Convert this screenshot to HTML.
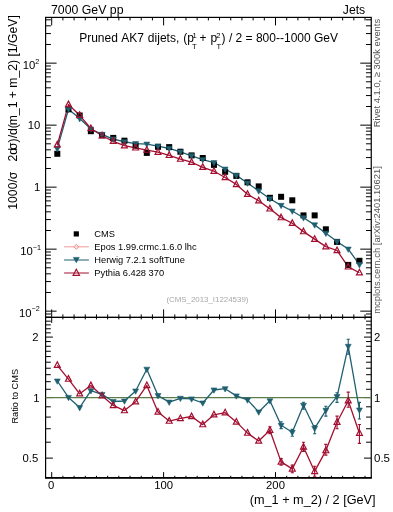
<!DOCTYPE html><html><head><meta charset="utf-8"><style>html,body{margin:0;padding:0;background:#fff;overflow:hidden;width:393px;height:512px;}svg{display:block;will-change:transform;}text{font-family:"Liberation Sans",sans-serif;}</style></head><body>
<svg width="393" height="512" viewBox="0 0 393 512">
<line x1="45.60" y1="317.16" x2="50.90" y2="317.16" stroke="#000" stroke-width="1.0"/><line x1="371.25" y1="317.16" x2="365.95" y2="317.16" stroke="#000" stroke-width="1.0"/><line x1="45.60" y1="313.99" x2="50.90" y2="313.99" stroke="#000" stroke-width="1.0"/><line x1="371.25" y1="313.99" x2="365.95" y2="313.99" stroke="#000" stroke-width="1.0"/><line x1="45.60" y1="311.15" x2="56.60" y2="311.15" stroke="#000" stroke-width="1.0"/><line x1="371.25" y1="311.15" x2="360.25" y2="311.15" stroke="#000" stroke-width="1.0"/><line x1="45.60" y1="292.49" x2="50.90" y2="292.49" stroke="#000" stroke-width="1.0"/><line x1="371.25" y1="292.49" x2="365.95" y2="292.49" stroke="#000" stroke-width="1.0"/><line x1="45.60" y1="281.57" x2="50.90" y2="281.57" stroke="#000" stroke-width="1.0"/><line x1="371.25" y1="281.57" x2="365.95" y2="281.57" stroke="#000" stroke-width="1.0"/><line x1="45.60" y1="273.82" x2="50.90" y2="273.82" stroke="#000" stroke-width="1.0"/><line x1="371.25" y1="273.82" x2="365.95" y2="273.82" stroke="#000" stroke-width="1.0"/><line x1="45.60" y1="267.81" x2="50.90" y2="267.81" stroke="#000" stroke-width="1.0"/><line x1="371.25" y1="267.81" x2="365.95" y2="267.81" stroke="#000" stroke-width="1.0"/><line x1="45.60" y1="262.90" x2="50.90" y2="262.90" stroke="#000" stroke-width="1.0"/><line x1="371.25" y1="262.90" x2="365.95" y2="262.90" stroke="#000" stroke-width="1.0"/><line x1="45.60" y1="258.75" x2="50.90" y2="258.75" stroke="#000" stroke-width="1.0"/><line x1="371.25" y1="258.75" x2="365.95" y2="258.75" stroke="#000" stroke-width="1.0"/><line x1="45.60" y1="255.16" x2="50.90" y2="255.16" stroke="#000" stroke-width="1.0"/><line x1="371.25" y1="255.16" x2="365.95" y2="255.16" stroke="#000" stroke-width="1.0"/><line x1="45.60" y1="251.99" x2="50.90" y2="251.99" stroke="#000" stroke-width="1.0"/><line x1="371.25" y1="251.99" x2="365.95" y2="251.99" stroke="#000" stroke-width="1.0"/><line x1="45.60" y1="249.15" x2="56.60" y2="249.15" stroke="#000" stroke-width="1.0"/><line x1="371.25" y1="249.15" x2="360.25" y2="249.15" stroke="#000" stroke-width="1.0"/><line x1="45.60" y1="230.49" x2="50.90" y2="230.49" stroke="#000" stroke-width="1.0"/><line x1="371.25" y1="230.49" x2="365.95" y2="230.49" stroke="#000" stroke-width="1.0"/><line x1="45.60" y1="219.57" x2="50.90" y2="219.57" stroke="#000" stroke-width="1.0"/><line x1="371.25" y1="219.57" x2="365.95" y2="219.57" stroke="#000" stroke-width="1.0"/><line x1="45.60" y1="211.82" x2="50.90" y2="211.82" stroke="#000" stroke-width="1.0"/><line x1="371.25" y1="211.82" x2="365.95" y2="211.82" stroke="#000" stroke-width="1.0"/><line x1="45.60" y1="205.81" x2="50.90" y2="205.81" stroke="#000" stroke-width="1.0"/><line x1="371.25" y1="205.81" x2="365.95" y2="205.81" stroke="#000" stroke-width="1.0"/><line x1="45.60" y1="200.90" x2="50.90" y2="200.90" stroke="#000" stroke-width="1.0"/><line x1="371.25" y1="200.90" x2="365.95" y2="200.90" stroke="#000" stroke-width="1.0"/><line x1="45.60" y1="196.75" x2="50.90" y2="196.75" stroke="#000" stroke-width="1.0"/><line x1="371.25" y1="196.75" x2="365.95" y2="196.75" stroke="#000" stroke-width="1.0"/><line x1="45.60" y1="193.16" x2="50.90" y2="193.16" stroke="#000" stroke-width="1.0"/><line x1="371.25" y1="193.16" x2="365.95" y2="193.16" stroke="#000" stroke-width="1.0"/><line x1="45.60" y1="189.99" x2="50.90" y2="189.99" stroke="#000" stroke-width="1.0"/><line x1="371.25" y1="189.99" x2="365.95" y2="189.99" stroke="#000" stroke-width="1.0"/><line x1="45.60" y1="187.15" x2="56.60" y2="187.15" stroke="#000" stroke-width="1.0"/><line x1="371.25" y1="187.15" x2="360.25" y2="187.15" stroke="#000" stroke-width="1.0"/><line x1="45.60" y1="168.49" x2="50.90" y2="168.49" stroke="#000" stroke-width="1.0"/><line x1="371.25" y1="168.49" x2="365.95" y2="168.49" stroke="#000" stroke-width="1.0"/><line x1="45.60" y1="157.57" x2="50.90" y2="157.57" stroke="#000" stroke-width="1.0"/><line x1="371.25" y1="157.57" x2="365.95" y2="157.57" stroke="#000" stroke-width="1.0"/><line x1="45.60" y1="149.82" x2="50.90" y2="149.82" stroke="#000" stroke-width="1.0"/><line x1="371.25" y1="149.82" x2="365.95" y2="149.82" stroke="#000" stroke-width="1.0"/><line x1="45.60" y1="143.81" x2="50.90" y2="143.81" stroke="#000" stroke-width="1.0"/><line x1="371.25" y1="143.81" x2="365.95" y2="143.81" stroke="#000" stroke-width="1.0"/><line x1="45.60" y1="138.90" x2="50.90" y2="138.90" stroke="#000" stroke-width="1.0"/><line x1="371.25" y1="138.90" x2="365.95" y2="138.90" stroke="#000" stroke-width="1.0"/><line x1="45.60" y1="134.75" x2="50.90" y2="134.75" stroke="#000" stroke-width="1.0"/><line x1="371.25" y1="134.75" x2="365.95" y2="134.75" stroke="#000" stroke-width="1.0"/><line x1="45.60" y1="131.16" x2="50.90" y2="131.16" stroke="#000" stroke-width="1.0"/><line x1="371.25" y1="131.16" x2="365.95" y2="131.16" stroke="#000" stroke-width="1.0"/><line x1="45.60" y1="127.99" x2="50.90" y2="127.99" stroke="#000" stroke-width="1.0"/><line x1="371.25" y1="127.99" x2="365.95" y2="127.99" stroke="#000" stroke-width="1.0"/><line x1="45.60" y1="125.15" x2="56.60" y2="125.15" stroke="#000" stroke-width="1.0"/><line x1="371.25" y1="125.15" x2="360.25" y2="125.15" stroke="#000" stroke-width="1.0"/><line x1="45.60" y1="106.49" x2="50.90" y2="106.49" stroke="#000" stroke-width="1.0"/><line x1="371.25" y1="106.49" x2="365.95" y2="106.49" stroke="#000" stroke-width="1.0"/><line x1="45.60" y1="95.57" x2="50.90" y2="95.57" stroke="#000" stroke-width="1.0"/><line x1="371.25" y1="95.57" x2="365.95" y2="95.57" stroke="#000" stroke-width="1.0"/><line x1="45.60" y1="87.82" x2="50.90" y2="87.82" stroke="#000" stroke-width="1.0"/><line x1="371.25" y1="87.82" x2="365.95" y2="87.82" stroke="#000" stroke-width="1.0"/><line x1="45.60" y1="81.81" x2="50.90" y2="81.81" stroke="#000" stroke-width="1.0"/><line x1="371.25" y1="81.81" x2="365.95" y2="81.81" stroke="#000" stroke-width="1.0"/><line x1="45.60" y1="76.90" x2="50.90" y2="76.90" stroke="#000" stroke-width="1.0"/><line x1="371.25" y1="76.90" x2="365.95" y2="76.90" stroke="#000" stroke-width="1.0"/><line x1="45.60" y1="72.75" x2="50.90" y2="72.75" stroke="#000" stroke-width="1.0"/><line x1="371.25" y1="72.75" x2="365.95" y2="72.75" stroke="#000" stroke-width="1.0"/><line x1="45.60" y1="69.16" x2="50.90" y2="69.16" stroke="#000" stroke-width="1.0"/><line x1="371.25" y1="69.16" x2="365.95" y2="69.16" stroke="#000" stroke-width="1.0"/><line x1="45.60" y1="65.99" x2="50.90" y2="65.99" stroke="#000" stroke-width="1.0"/><line x1="371.25" y1="65.99" x2="365.95" y2="65.99" stroke="#000" stroke-width="1.0"/><line x1="45.60" y1="63.15" x2="56.60" y2="63.15" stroke="#000" stroke-width="1.0"/><line x1="371.25" y1="63.15" x2="360.25" y2="63.15" stroke="#000" stroke-width="1.0"/><line x1="45.60" y1="44.49" x2="50.90" y2="44.49" stroke="#000" stroke-width="1.0"/><line x1="371.25" y1="44.49" x2="365.95" y2="44.49" stroke="#000" stroke-width="1.0"/><line x1="45.60" y1="33.57" x2="50.90" y2="33.57" stroke="#000" stroke-width="1.0"/><line x1="371.25" y1="33.57" x2="365.95" y2="33.57" stroke="#000" stroke-width="1.0"/><line x1="45.60" y1="25.82" x2="50.90" y2="25.82" stroke="#000" stroke-width="1.0"/><line x1="371.25" y1="25.82" x2="365.95" y2="25.82" stroke="#000" stroke-width="1.0"/><line x1="45.60" y1="19.81" x2="50.90" y2="19.81" stroke="#000" stroke-width="1.0"/><line x1="371.25" y1="19.81" x2="365.95" y2="19.81" stroke="#000" stroke-width="1.0"/><line x1="51.70" y1="17.40" x2="51.70" y2="25.40" stroke="#000" stroke-width="1.0"/><line x1="51.70" y1="317.40" x2="51.70" y2="309.40" stroke="#000" stroke-width="1.0"/><line x1="51.70" y1="317.40" x2="51.70" y2="322.90" stroke="#000" stroke-width="1.0"/><line x1="51.70" y1="477.60" x2="51.70" y2="472.10" stroke="#000" stroke-width="1.0"/><line x1="62.89" y1="17.40" x2="62.89" y2="20.40" stroke="#000" stroke-width="1.0"/><line x1="62.89" y1="317.40" x2="62.89" y2="314.40" stroke="#000" stroke-width="1.0"/><line x1="62.89" y1="317.40" x2="62.89" y2="319.40" stroke="#000" stroke-width="1.0"/><line x1="62.89" y1="477.60" x2="62.89" y2="475.80" stroke="#000" stroke-width="1.0"/><line x1="74.08" y1="17.40" x2="74.08" y2="20.40" stroke="#000" stroke-width="1.0"/><line x1="74.08" y1="317.40" x2="74.08" y2="314.40" stroke="#000" stroke-width="1.0"/><line x1="74.08" y1="317.40" x2="74.08" y2="319.40" stroke="#000" stroke-width="1.0"/><line x1="74.08" y1="477.60" x2="74.08" y2="475.80" stroke="#000" stroke-width="1.0"/><line x1="85.27" y1="17.40" x2="85.27" y2="20.40" stroke="#000" stroke-width="1.0"/><line x1="85.27" y1="317.40" x2="85.27" y2="314.40" stroke="#000" stroke-width="1.0"/><line x1="85.27" y1="317.40" x2="85.27" y2="319.40" stroke="#000" stroke-width="1.0"/><line x1="85.27" y1="477.60" x2="85.27" y2="475.80" stroke="#000" stroke-width="1.0"/><line x1="96.46" y1="17.40" x2="96.46" y2="20.40" stroke="#000" stroke-width="1.0"/><line x1="96.46" y1="317.40" x2="96.46" y2="314.40" stroke="#000" stroke-width="1.0"/><line x1="96.46" y1="317.40" x2="96.46" y2="319.40" stroke="#000" stroke-width="1.0"/><line x1="96.46" y1="477.60" x2="96.46" y2="475.80" stroke="#000" stroke-width="1.0"/><line x1="107.65" y1="17.40" x2="107.65" y2="20.40" stroke="#000" stroke-width="1.0"/><line x1="107.65" y1="317.40" x2="107.65" y2="314.40" stroke="#000" stroke-width="1.0"/><line x1="107.65" y1="317.40" x2="107.65" y2="319.40" stroke="#000" stroke-width="1.0"/><line x1="107.65" y1="477.60" x2="107.65" y2="475.80" stroke="#000" stroke-width="1.0"/><line x1="118.84" y1="17.40" x2="118.84" y2="20.40" stroke="#000" stroke-width="1.0"/><line x1="118.84" y1="317.40" x2="118.84" y2="314.40" stroke="#000" stroke-width="1.0"/><line x1="118.84" y1="317.40" x2="118.84" y2="319.40" stroke="#000" stroke-width="1.0"/><line x1="118.84" y1="477.60" x2="118.84" y2="475.80" stroke="#000" stroke-width="1.0"/><line x1="130.03" y1="17.40" x2="130.03" y2="20.40" stroke="#000" stroke-width="1.0"/><line x1="130.03" y1="317.40" x2="130.03" y2="314.40" stroke="#000" stroke-width="1.0"/><line x1="130.03" y1="317.40" x2="130.03" y2="319.40" stroke="#000" stroke-width="1.0"/><line x1="130.03" y1="477.60" x2="130.03" y2="475.80" stroke="#000" stroke-width="1.0"/><line x1="141.22" y1="17.40" x2="141.22" y2="20.40" stroke="#000" stroke-width="1.0"/><line x1="141.22" y1="317.40" x2="141.22" y2="314.40" stroke="#000" stroke-width="1.0"/><line x1="141.22" y1="317.40" x2="141.22" y2="319.40" stroke="#000" stroke-width="1.0"/><line x1="141.22" y1="477.60" x2="141.22" y2="475.80" stroke="#000" stroke-width="1.0"/><line x1="152.41" y1="17.40" x2="152.41" y2="20.40" stroke="#000" stroke-width="1.0"/><line x1="152.41" y1="317.40" x2="152.41" y2="314.40" stroke="#000" stroke-width="1.0"/><line x1="152.41" y1="317.40" x2="152.41" y2="319.40" stroke="#000" stroke-width="1.0"/><line x1="152.41" y1="477.60" x2="152.41" y2="475.80" stroke="#000" stroke-width="1.0"/><line x1="163.60" y1="17.40" x2="163.60" y2="25.40" stroke="#000" stroke-width="1.0"/><line x1="163.60" y1="317.40" x2="163.60" y2="309.40" stroke="#000" stroke-width="1.0"/><line x1="163.60" y1="317.40" x2="163.60" y2="322.90" stroke="#000" stroke-width="1.0"/><line x1="163.60" y1="477.60" x2="163.60" y2="472.10" stroke="#000" stroke-width="1.0"/><line x1="174.79" y1="17.40" x2="174.79" y2="20.40" stroke="#000" stroke-width="1.0"/><line x1="174.79" y1="317.40" x2="174.79" y2="314.40" stroke="#000" stroke-width="1.0"/><line x1="174.79" y1="317.40" x2="174.79" y2="319.40" stroke="#000" stroke-width="1.0"/><line x1="174.79" y1="477.60" x2="174.79" y2="475.80" stroke="#000" stroke-width="1.0"/><line x1="185.98" y1="17.40" x2="185.98" y2="20.40" stroke="#000" stroke-width="1.0"/><line x1="185.98" y1="317.40" x2="185.98" y2="314.40" stroke="#000" stroke-width="1.0"/><line x1="185.98" y1="317.40" x2="185.98" y2="319.40" stroke="#000" stroke-width="1.0"/><line x1="185.98" y1="477.60" x2="185.98" y2="475.80" stroke="#000" stroke-width="1.0"/><line x1="197.17" y1="17.40" x2="197.17" y2="20.40" stroke="#000" stroke-width="1.0"/><line x1="197.17" y1="317.40" x2="197.17" y2="314.40" stroke="#000" stroke-width="1.0"/><line x1="197.17" y1="317.40" x2="197.17" y2="319.40" stroke="#000" stroke-width="1.0"/><line x1="197.17" y1="477.60" x2="197.17" y2="475.80" stroke="#000" stroke-width="1.0"/><line x1="208.36" y1="17.40" x2="208.36" y2="20.40" stroke="#000" stroke-width="1.0"/><line x1="208.36" y1="317.40" x2="208.36" y2="314.40" stroke="#000" stroke-width="1.0"/><line x1="208.36" y1="317.40" x2="208.36" y2="319.40" stroke="#000" stroke-width="1.0"/><line x1="208.36" y1="477.60" x2="208.36" y2="475.80" stroke="#000" stroke-width="1.0"/><line x1="219.55" y1="17.40" x2="219.55" y2="20.40" stroke="#000" stroke-width="1.0"/><line x1="219.55" y1="317.40" x2="219.55" y2="314.40" stroke="#000" stroke-width="1.0"/><line x1="219.55" y1="317.40" x2="219.55" y2="319.40" stroke="#000" stroke-width="1.0"/><line x1="219.55" y1="477.60" x2="219.55" y2="475.80" stroke="#000" stroke-width="1.0"/><line x1="230.74" y1="17.40" x2="230.74" y2="20.40" stroke="#000" stroke-width="1.0"/><line x1="230.74" y1="317.40" x2="230.74" y2="314.40" stroke="#000" stroke-width="1.0"/><line x1="230.74" y1="317.40" x2="230.74" y2="319.40" stroke="#000" stroke-width="1.0"/><line x1="230.74" y1="477.60" x2="230.74" y2="475.80" stroke="#000" stroke-width="1.0"/><line x1="241.93" y1="17.40" x2="241.93" y2="20.40" stroke="#000" stroke-width="1.0"/><line x1="241.93" y1="317.40" x2="241.93" y2="314.40" stroke="#000" stroke-width="1.0"/><line x1="241.93" y1="317.40" x2="241.93" y2="319.40" stroke="#000" stroke-width="1.0"/><line x1="241.93" y1="477.60" x2="241.93" y2="475.80" stroke="#000" stroke-width="1.0"/><line x1="253.12" y1="17.40" x2="253.12" y2="20.40" stroke="#000" stroke-width="1.0"/><line x1="253.12" y1="317.40" x2="253.12" y2="314.40" stroke="#000" stroke-width="1.0"/><line x1="253.12" y1="317.40" x2="253.12" y2="319.40" stroke="#000" stroke-width="1.0"/><line x1="253.12" y1="477.60" x2="253.12" y2="475.80" stroke="#000" stroke-width="1.0"/><line x1="264.31" y1="17.40" x2="264.31" y2="20.40" stroke="#000" stroke-width="1.0"/><line x1="264.31" y1="317.40" x2="264.31" y2="314.40" stroke="#000" stroke-width="1.0"/><line x1="264.31" y1="317.40" x2="264.31" y2="319.40" stroke="#000" stroke-width="1.0"/><line x1="264.31" y1="477.60" x2="264.31" y2="475.80" stroke="#000" stroke-width="1.0"/><line x1="275.50" y1="17.40" x2="275.50" y2="25.40" stroke="#000" stroke-width="1.0"/><line x1="275.50" y1="317.40" x2="275.50" y2="309.40" stroke="#000" stroke-width="1.0"/><line x1="275.50" y1="317.40" x2="275.50" y2="322.90" stroke="#000" stroke-width="1.0"/><line x1="275.50" y1="477.60" x2="275.50" y2="472.10" stroke="#000" stroke-width="1.0"/><line x1="286.69" y1="17.40" x2="286.69" y2="20.40" stroke="#000" stroke-width="1.0"/><line x1="286.69" y1="317.40" x2="286.69" y2="314.40" stroke="#000" stroke-width="1.0"/><line x1="286.69" y1="317.40" x2="286.69" y2="319.40" stroke="#000" stroke-width="1.0"/><line x1="286.69" y1="477.60" x2="286.69" y2="475.80" stroke="#000" stroke-width="1.0"/><line x1="297.88" y1="17.40" x2="297.88" y2="20.40" stroke="#000" stroke-width="1.0"/><line x1="297.88" y1="317.40" x2="297.88" y2="314.40" stroke="#000" stroke-width="1.0"/><line x1="297.88" y1="317.40" x2="297.88" y2="319.40" stroke="#000" stroke-width="1.0"/><line x1="297.88" y1="477.60" x2="297.88" y2="475.80" stroke="#000" stroke-width="1.0"/><line x1="309.07" y1="17.40" x2="309.07" y2="20.40" stroke="#000" stroke-width="1.0"/><line x1="309.07" y1="317.40" x2="309.07" y2="314.40" stroke="#000" stroke-width="1.0"/><line x1="309.07" y1="317.40" x2="309.07" y2="319.40" stroke="#000" stroke-width="1.0"/><line x1="309.07" y1="477.60" x2="309.07" y2="475.80" stroke="#000" stroke-width="1.0"/><line x1="320.26" y1="17.40" x2="320.26" y2="20.40" stroke="#000" stroke-width="1.0"/><line x1="320.26" y1="317.40" x2="320.26" y2="314.40" stroke="#000" stroke-width="1.0"/><line x1="320.26" y1="317.40" x2="320.26" y2="319.40" stroke="#000" stroke-width="1.0"/><line x1="320.26" y1="477.60" x2="320.26" y2="475.80" stroke="#000" stroke-width="1.0"/><line x1="331.45" y1="17.40" x2="331.45" y2="20.40" stroke="#000" stroke-width="1.0"/><line x1="331.45" y1="317.40" x2="331.45" y2="314.40" stroke="#000" stroke-width="1.0"/><line x1="331.45" y1="317.40" x2="331.45" y2="319.40" stroke="#000" stroke-width="1.0"/><line x1="331.45" y1="477.60" x2="331.45" y2="475.80" stroke="#000" stroke-width="1.0"/><line x1="342.64" y1="17.40" x2="342.64" y2="20.40" stroke="#000" stroke-width="1.0"/><line x1="342.64" y1="317.40" x2="342.64" y2="314.40" stroke="#000" stroke-width="1.0"/><line x1="342.64" y1="317.40" x2="342.64" y2="319.40" stroke="#000" stroke-width="1.0"/><line x1="342.64" y1="477.60" x2="342.64" y2="475.80" stroke="#000" stroke-width="1.0"/><line x1="353.83" y1="17.40" x2="353.83" y2="20.40" stroke="#000" stroke-width="1.0"/><line x1="353.83" y1="317.40" x2="353.83" y2="314.40" stroke="#000" stroke-width="1.0"/><line x1="353.83" y1="317.40" x2="353.83" y2="319.40" stroke="#000" stroke-width="1.0"/><line x1="353.83" y1="477.60" x2="353.83" y2="475.80" stroke="#000" stroke-width="1.0"/><line x1="365.02" y1="17.40" x2="365.02" y2="20.40" stroke="#000" stroke-width="1.0"/><line x1="365.02" y1="317.40" x2="365.02" y2="314.40" stroke="#000" stroke-width="1.0"/><line x1="365.02" y1="317.40" x2="365.02" y2="319.40" stroke="#000" stroke-width="1.0"/><line x1="365.02" y1="477.60" x2="365.02" y2="475.80" stroke="#000" stroke-width="1.0"/><line x1="45.60" y1="458.11" x2="52.90" y2="458.11" stroke="#000" stroke-width="1.0"/><line x1="371.25" y1="458.11" x2="363.95" y2="458.11" stroke="#000" stroke-width="1.0"/><line x1="45.60" y1="442.19" x2="50.80" y2="442.19" stroke="#000" stroke-width="1.0"/><line x1="371.25" y1="442.19" x2="366.05" y2="442.19" stroke="#000" stroke-width="1.0"/><line x1="45.60" y1="428.74" x2="50.80" y2="428.74" stroke="#000" stroke-width="1.0"/><line x1="371.25" y1="428.74" x2="366.05" y2="428.74" stroke="#000" stroke-width="1.0"/><line x1="45.60" y1="417.08" x2="50.80" y2="417.08" stroke="#000" stroke-width="1.0"/><line x1="371.25" y1="417.08" x2="366.05" y2="417.08" stroke="#000" stroke-width="1.0"/><line x1="45.60" y1="406.80" x2="50.80" y2="406.80" stroke="#000" stroke-width="1.0"/><line x1="371.25" y1="406.80" x2="366.05" y2="406.80" stroke="#000" stroke-width="1.0"/><line x1="45.60" y1="397.60" x2="52.90" y2="397.60" stroke="#000" stroke-width="1.0"/><line x1="371.25" y1="397.60" x2="363.95" y2="397.60" stroke="#000" stroke-width="1.0"/><line x1="45.60" y1="389.28" x2="50.80" y2="389.28" stroke="#000" stroke-width="1.0"/><line x1="371.25" y1="389.28" x2="366.05" y2="389.28" stroke="#000" stroke-width="1.0"/><line x1="45.60" y1="381.68" x2="50.80" y2="381.68" stroke="#000" stroke-width="1.0"/><line x1="371.25" y1="381.68" x2="366.05" y2="381.68" stroke="#000" stroke-width="1.0"/><line x1="45.60" y1="374.70" x2="50.80" y2="374.70" stroke="#000" stroke-width="1.0"/><line x1="371.25" y1="374.70" x2="366.05" y2="374.70" stroke="#000" stroke-width="1.0"/><line x1="45.60" y1="368.23" x2="50.80" y2="368.23" stroke="#000" stroke-width="1.0"/><line x1="371.25" y1="368.23" x2="366.05" y2="368.23" stroke="#000" stroke-width="1.0"/><line x1="45.60" y1="362.21" x2="50.80" y2="362.21" stroke="#000" stroke-width="1.0"/><line x1="371.25" y1="362.21" x2="366.05" y2="362.21" stroke="#000" stroke-width="1.0"/><line x1="45.60" y1="356.57" x2="50.80" y2="356.57" stroke="#000" stroke-width="1.0"/><line x1="371.25" y1="356.57" x2="366.05" y2="356.57" stroke="#000" stroke-width="1.0"/><line x1="45.60" y1="351.28" x2="50.80" y2="351.28" stroke="#000" stroke-width="1.0"/><line x1="371.25" y1="351.28" x2="366.05" y2="351.28" stroke="#000" stroke-width="1.0"/><line x1="45.60" y1="346.29" x2="50.80" y2="346.29" stroke="#000" stroke-width="1.0"/><line x1="371.25" y1="346.29" x2="366.05" y2="346.29" stroke="#000" stroke-width="1.0"/><line x1="45.60" y1="341.57" x2="50.80" y2="341.57" stroke="#000" stroke-width="1.0"/><line x1="371.25" y1="341.57" x2="366.05" y2="341.57" stroke="#000" stroke-width="1.0"/><line x1="45.60" y1="337.09" x2="52.90" y2="337.09" stroke="#000" stroke-width="1.0"/><line x1="371.25" y1="337.09" x2="363.95" y2="337.09" stroke="#000" stroke-width="1.0"/><line x1="45.60" y1="332.83" x2="50.80" y2="332.83" stroke="#000" stroke-width="1.0"/><line x1="371.25" y1="332.83" x2="366.05" y2="332.83" stroke="#000" stroke-width="1.0"/><line x1="45.60" y1="328.77" x2="50.80" y2="328.77" stroke="#000" stroke-width="1.0"/><line x1="371.25" y1="328.77" x2="366.05" y2="328.77" stroke="#000" stroke-width="1.0"/><line x1="45.60" y1="324.89" x2="50.80" y2="324.89" stroke="#000" stroke-width="1.0"/><line x1="371.25" y1="324.89" x2="366.05" y2="324.89" stroke="#000" stroke-width="1.0"/><line x1="45.60" y1="321.18" x2="50.80" y2="321.18" stroke="#000" stroke-width="1.0"/><line x1="371.25" y1="321.18" x2="366.05" y2="321.18" stroke="#000" stroke-width="1.0"/>
<rect x="45.6" y="17.4" width="325.65" height="300.0" fill="none" stroke="#000" stroke-width="1.2"/>
<rect x="45.6" y="317.4" width="325.65" height="160.20000000000005" fill="none" stroke="#000" stroke-width="1.2"/>
<line x1="45.0" y1="477.95" x2="371.85" y2="477.95" stroke="#000" stroke-width="1.7"/>
<line x1="45.6" y1="397.6" x2="371.25" y2="397.6" stroke="#5b7d4c" stroke-width="1.1"/>
<defs><clipPath id="cm"><rect x="45.6" y="17.4" width="325.65" height="300.0"/></clipPath><clipPath id="cr"><rect x="45.6" y="317.4" width="325.65" height="160.20000000000005"/></clipPath></defs>
<g clip-path="url(#cm)"><polyline points="57.30,148.68 68.48,109.24 79.68,118.58 90.87,129.07 102.06,134.31 113.25,139.10 124.44,141.75 135.62,143.56 146.81,144.14 158.00,146.18 169.19,148.49 180.38,151.92 191.57,155.80 202.76,159.67 213.95,162.56 225.14,169.05 236.33,175.38 247.52,183.01 258.71,190.84 269.91,198.79 281.10,205.34 292.29,211.00 303.48,217.78 314.66,224.87 325.85,233.22 337.04,241.59 348.24,249.08 359.43,264.62" fill="none" stroke="#1f5f70" stroke-width="1.3" stroke-linejoin="round"/><polyline points="57.30,144.84 68.48,104.59 79.68,115.33 90.87,128.50 102.06,135.74 113.25,141.31 124.44,145.71 135.62,147.86 146.81,150.14 158.00,152.21 169.19,155.35 180.38,159.12 191.57,162.23 202.76,167.33 213.95,171.21 225.14,177.46 236.33,184.40 247.52,194.25 258.71,200.79 269.91,208.86 281.10,217.63 292.29,223.29 303.48,231.64 314.66,239.16 325.85,246.65 337.04,250.49 348.24,266.89 359.43,272.78" fill="none" stroke="#a30f30" stroke-width="1.3" stroke-linejoin="round"/><rect x="54.30" y="150.80" width="6" height="6" fill="#000"/><rect x="65.48" y="106.30" width="6" height="6" fill="#000"/><rect x="76.68" y="112.50" width="6" height="6" fill="#000"/><rect x="87.87" y="128.20" width="6" height="6" fill="#000"/><rect x="99.06" y="132.30" width="6" height="6" fill="#000"/><rect x="110.25" y="134.90" width="6" height="6" fill="#000"/><rect x="121.44" y="137.70" width="6" height="6" fill="#000"/><rect x="132.62" y="142.60" width="6" height="6" fill="#000"/><rect x="143.81" y="149.90" width="6" height="6" fill="#000"/><rect x="155.00" y="143.80" width="6" height="6" fill="#000"/><rect x="166.19" y="144.10" width="6" height="6" fill="#000"/><rect x="177.38" y="148.70" width="6" height="6" fill="#000"/><rect x="188.57" y="152.40" width="6" height="6" fill="#000"/><rect x="199.76" y="155.00" width="6" height="6" fill="#000"/><rect x="210.95" y="161.90" width="6" height="6" fill="#000"/><rect x="222.14" y="168.80" width="6" height="6" fill="#000"/><rect x="233.33" y="172.90" width="6" height="6" fill="#000"/><rect x="244.52" y="179.30" width="6" height="6" fill="#000"/><rect x="255.71" y="183.40" width="6" height="6" fill="#000"/><rect x="266.91" y="194.80" width="6" height="6" fill="#000"/><rect x="278.10" y="193.80" width="6" height="6" fill="#000"/><rect x="289.29" y="197.30" width="6" height="6" fill="#000"/><rect x="300.48" y="212.40" width="6" height="6" fill="#000"/><rect x="311.66" y="212.40" width="6" height="6" fill="#000"/><rect x="322.85" y="226.30" width="6" height="6" fill="#000"/><rect x="334.04" y="238.90" width="6" height="6" fill="#000"/><rect x="345.24" y="261.90" width="6" height="6" fill="#000"/><rect x="356.43" y="257.80" width="6" height="6" fill="#000"/><path d="M57.30,151.97 L60.25,146.66 L54.34,146.66 Z" fill="#1f5f70" stroke="#1f5f70" stroke-width="0.6"/><path d="M68.48,112.53 L71.44,107.22 L65.53,107.22 Z" fill="#1f5f70" stroke="#1f5f70" stroke-width="0.6"/><path d="M79.68,121.88 L82.63,116.57 L76.73,116.57 Z" fill="#1f5f70" stroke="#1f5f70" stroke-width="0.6"/><path d="M90.87,132.36 L93.82,127.05 L87.92,127.05 Z" fill="#1f5f70" stroke="#1f5f70" stroke-width="0.6"/><path d="M102.06,137.61 L105.01,132.30 L99.11,132.30 Z" fill="#1f5f70" stroke="#1f5f70" stroke-width="0.6"/><path d="M113.25,142.40 L116.20,137.09 L110.30,137.09 Z" fill="#1f5f70" stroke="#1f5f70" stroke-width="0.6"/><path d="M124.44,145.04 L127.39,139.73 L121.48,139.73 Z" fill="#1f5f70" stroke="#1f5f70" stroke-width="0.6"/><path d="M135.62,146.86 L138.57,141.55 L132.68,141.55 Z" fill="#1f5f70" stroke="#1f5f70" stroke-width="0.6"/><path d="M146.81,147.43 L149.76,142.12 L143.87,142.12 Z" fill="#1f5f70" stroke="#1f5f70" stroke-width="0.6"/><path d="M158.00,149.48 L160.95,144.17 L155.06,144.17 Z" fill="#1f5f70" stroke="#1f5f70" stroke-width="0.6"/><path d="M169.19,151.78 L172.14,146.47 L166.25,146.47 Z" fill="#1f5f70" stroke="#1f5f70" stroke-width="0.6"/><path d="M180.38,155.21 L183.33,149.90 L177.44,149.90 Z" fill="#1f5f70" stroke="#1f5f70" stroke-width="0.6"/><path d="M191.57,159.09 L194.52,153.78 L188.62,153.78 Z" fill="#1f5f70" stroke="#1f5f70" stroke-width="0.6"/><path d="M202.76,162.96 L205.71,157.65 L199.81,157.65 Z" fill="#1f5f70" stroke="#1f5f70" stroke-width="0.6"/><path d="M213.95,165.85 L216.90,160.54 L211.00,160.54 Z" fill="#1f5f70" stroke="#1f5f70" stroke-width="0.6"/><path d="M225.14,172.35 L228.09,167.04 L222.19,167.04 Z" fill="#1f5f70" stroke="#1f5f70" stroke-width="0.6"/><path d="M236.33,178.67 L239.28,173.36 L233.38,173.36 Z" fill="#1f5f70" stroke="#1f5f70" stroke-width="0.6"/><path d="M247.52,186.30 L250.47,180.99 L244.57,180.99 Z" fill="#1f5f70" stroke="#1f5f70" stroke-width="0.6"/><path d="M258.71,194.13 L261.66,188.82 L255.76,188.82 Z" fill="#1f5f70" stroke="#1f5f70" stroke-width="0.6"/><path d="M269.91,202.08 L272.86,196.77 L266.96,196.77 Z" fill="#1f5f70" stroke="#1f5f70" stroke-width="0.6"/><path d="M281.10,208.64 L284.05,203.33 L278.15,203.33 Z" fill="#1f5f70" stroke="#1f5f70" stroke-width="0.6"/><path d="M292.29,214.30 L295.24,208.99 L289.34,208.99 Z" fill="#1f5f70" stroke="#1f5f70" stroke-width="0.6"/><path d="M303.48,221.07 L306.43,215.76 L300.53,215.76 Z" fill="#1f5f70" stroke="#1f5f70" stroke-width="0.6"/><path d="M314.66,228.16 L317.61,222.85 L311.71,222.85 Z" fill="#1f5f70" stroke="#1f5f70" stroke-width="0.6"/><path d="M325.85,236.51 L328.80,231.20 L322.90,231.20 Z" fill="#1f5f70" stroke="#1f5f70" stroke-width="0.6"/><path d="M337.04,244.88 L339.99,239.57 L334.09,239.57 Z" fill="#1f5f70" stroke="#1f5f70" stroke-width="0.6"/><path d="M348.24,252.37 L351.19,247.06 L345.29,247.06 Z" fill="#1f5f70" stroke="#1f5f70" stroke-width="0.6"/><path d="M359.43,267.92 L362.38,262.61 L356.48,262.61 Z" fill="#1f5f70" stroke="#1f5f70" stroke-width="0.6"/><path d="M57.30,141.36 L60.25,146.97 L54.34,146.97 Z" fill="none" stroke="#a30f30" stroke-width="1.2"/><path d="M68.48,101.12 L71.44,106.72 L65.53,106.72 Z" fill="none" stroke="#a30f30" stroke-width="1.2"/><path d="M79.68,111.85 L82.63,117.46 L76.73,117.46 Z" fill="none" stroke="#a30f30" stroke-width="1.2"/><path d="M90.87,125.02 L93.82,130.63 L87.92,130.63 Z" fill="none" stroke="#a30f30" stroke-width="1.2"/><path d="M102.06,132.27 L105.01,137.87 L99.11,137.87 Z" fill="none" stroke="#a30f30" stroke-width="1.2"/><path d="M113.25,137.83 L116.20,143.44 L110.30,143.44 Z" fill="none" stroke="#a30f30" stroke-width="1.2"/><path d="M124.44,142.23 L127.39,147.84 L121.48,147.84 Z" fill="none" stroke="#a30f30" stroke-width="1.2"/><path d="M135.62,144.39 L138.57,149.99 L132.68,149.99 Z" fill="none" stroke="#a30f30" stroke-width="1.2"/><path d="M146.81,146.66 L149.76,152.27 L143.87,152.27 Z" fill="none" stroke="#a30f30" stroke-width="1.2"/><path d="M158.00,148.74 L160.95,154.34 L155.06,154.34 Z" fill="none" stroke="#a30f30" stroke-width="1.2"/><path d="M169.19,151.87 L172.14,157.48 L166.25,157.48 Z" fill="none" stroke="#a30f30" stroke-width="1.2"/><path d="M180.38,155.64 L183.33,161.25 L177.44,161.25 Z" fill="none" stroke="#a30f30" stroke-width="1.2"/><path d="M191.57,158.75 L194.52,164.36 L188.62,164.36 Z" fill="none" stroke="#a30f30" stroke-width="1.2"/><path d="M202.76,163.85 L205.71,169.46 L199.81,169.46 Z" fill="none" stroke="#a30f30" stroke-width="1.2"/><path d="M213.95,167.73 L216.90,173.34 L211.00,173.34 Z" fill="none" stroke="#a30f30" stroke-width="1.2"/><path d="M225.14,173.98 L228.09,179.59 L222.19,179.59 Z" fill="none" stroke="#a30f30" stroke-width="1.2"/><path d="M236.33,180.92 L239.28,186.53 L233.38,186.53 Z" fill="none" stroke="#a30f30" stroke-width="1.2"/><path d="M247.52,190.78 L250.47,196.38 L244.57,196.38 Z" fill="none" stroke="#a30f30" stroke-width="1.2"/><path d="M258.71,197.31 L261.66,202.92 L255.76,202.92 Z" fill="none" stroke="#a30f30" stroke-width="1.2"/><path d="M269.91,205.38 L272.86,210.99 L266.96,210.99 Z" fill="none" stroke="#a30f30" stroke-width="1.2"/><path d="M281.10,214.16 L284.05,219.76 L278.15,219.76 Z" fill="none" stroke="#a30f30" stroke-width="1.2"/><path d="M292.29,219.82 L295.24,225.42 L289.34,225.42 Z" fill="none" stroke="#a30f30" stroke-width="1.2"/><path d="M303.48,228.16 L306.43,233.77 L300.53,233.77 Z" fill="none" stroke="#a30f30" stroke-width="1.2"/><path d="M314.66,235.69 L317.61,241.29 L311.71,241.29 Z" fill="none" stroke="#a30f30" stroke-width="1.2"/><path d="M325.85,243.17 L328.80,248.78 L322.90,248.78 Z" fill="none" stroke="#a30f30" stroke-width="1.2"/><path d="M337.04,247.01 L339.99,252.62 L334.09,252.62 Z" fill="none" stroke="#a30f30" stroke-width="1.2"/><path d="M348.24,263.41 L351.19,269.02 L345.29,269.02 Z" fill="none" stroke="#a30f30" stroke-width="1.2"/><path d="M359.43,269.31 L362.38,274.91 L356.48,274.91 Z" fill="none" stroke="#a30f30" stroke-width="1.2"/></g>
<g clip-path="url(#cr)"><polyline points="57.30,381.00 68.48,397.40 79.68,407.60 90.87,390.70 102.06,394.40 113.25,401.50 124.44,401.00 135.62,391.00 146.81,369.20 158.00,395.60 169.19,402.10 180.38,398.30 191.57,398.90 202.76,403.00 213.95,390.00 225.14,388.70 236.33,395.90 247.52,399.90 258.71,412.00 269.91,400.80 281.10,425.30 292.29,432.30 303.48,405.30 314.66,428.30 325.85,410.30 337.04,396.60 348.24,346.30 359.43,410.00" fill="none" stroke="#1f5f70" stroke-width="1.3" stroke-linejoin="round"/><polyline points="57.30,365.30 68.48,379.10 79.68,393.80 90.87,385.60 102.06,395.80 113.25,405.40 124.44,410.60 135.62,401.70 146.81,385.40 158.00,411.90 169.19,421.10 180.38,418.40 191.57,416.50 202.76,424.60 213.95,414.80 225.14,412.70 236.33,421.90 247.52,433.10 258.71,441.00 269.91,430.20 281.10,461.90 292.29,468.90 303.48,447.00 314.66,471.40 325.85,450.60 337.04,422.20 348.24,400.80 359.43,433.20" fill="none" stroke="#a30f30" stroke-width="1.3" stroke-linejoin="round"/><path d="M57.30,384.29 L60.25,378.98 L54.34,378.98 Z" fill="#1f5f70" stroke="#1f5f70" stroke-width="0.6"/><path d="M68.48,400.69 L71.44,395.38 L65.53,395.38 Z" fill="#1f5f70" stroke="#1f5f70" stroke-width="0.6"/><path d="M79.68,410.89 L82.63,405.58 L76.73,405.58 Z" fill="#1f5f70" stroke="#1f5f70" stroke-width="0.6"/><path d="M90.87,393.99 L93.82,388.68 L87.92,388.68 Z" fill="#1f5f70" stroke="#1f5f70" stroke-width="0.6"/><path d="M102.06,397.69 L105.01,392.38 L99.11,392.38 Z" fill="#1f5f70" stroke="#1f5f70" stroke-width="0.6"/><path d="M113.25,404.79 L116.20,399.48 L110.30,399.48 Z" fill="#1f5f70" stroke="#1f5f70" stroke-width="0.6"/><path d="M124.44,404.29 L127.39,398.98 L121.48,398.98 Z" fill="#1f5f70" stroke="#1f5f70" stroke-width="0.6"/><path d="M135.62,394.29 L138.57,388.98 L132.68,388.98 Z" fill="#1f5f70" stroke="#1f5f70" stroke-width="0.6"/><path d="M146.81,372.49 L149.76,367.18 L143.87,367.18 Z" fill="#1f5f70" stroke="#1f5f70" stroke-width="0.6"/><path d="M158.00,398.89 L160.95,393.58 L155.06,393.58 Z" fill="#1f5f70" stroke="#1f5f70" stroke-width="0.6"/><path d="M169.19,405.39 L172.14,400.08 L166.25,400.08 Z" fill="#1f5f70" stroke="#1f5f70" stroke-width="0.6"/><path d="M180.38,401.59 L183.33,396.28 L177.44,396.28 Z" fill="#1f5f70" stroke="#1f5f70" stroke-width="0.6"/><path d="M191.57,402.19 L194.52,396.88 L188.62,396.88 Z" fill="#1f5f70" stroke="#1f5f70" stroke-width="0.6"/><path d="M202.76,406.29 L205.71,400.98 L199.81,400.98 Z" fill="#1f5f70" stroke="#1f5f70" stroke-width="0.6"/><path d="M213.95,393.29 L216.90,387.98 L211.00,387.98 Z" fill="#1f5f70" stroke="#1f5f70" stroke-width="0.6"/><path d="M225.14,391.99 L228.09,386.68 L222.19,386.68 Z" fill="#1f5f70" stroke="#1f5f70" stroke-width="0.6"/><path d="M236.33,399.19 L239.28,393.88 L233.38,393.88 Z" fill="#1f5f70" stroke="#1f5f70" stroke-width="0.6"/><path d="M247.52,403.19 L250.47,397.88 L244.57,397.88 Z" fill="#1f5f70" stroke="#1f5f70" stroke-width="0.6"/><path d="M258.71,415.29 L261.66,409.98 L255.76,409.98 Z" fill="#1f5f70" stroke="#1f5f70" stroke-width="0.6"/><path d="M269.91,404.09 L272.86,398.78 L266.96,398.78 Z" fill="#1f5f70" stroke="#1f5f70" stroke-width="0.6"/><path d="M281.10,428.59 L284.05,423.28 L278.15,423.28 Z" fill="#1f5f70" stroke="#1f5f70" stroke-width="0.6"/><path d="M292.29,435.59 L295.24,430.28 L289.34,430.28 Z" fill="#1f5f70" stroke="#1f5f70" stroke-width="0.6"/><path d="M303.48,408.59 L306.43,403.28 L300.53,403.28 Z" fill="#1f5f70" stroke="#1f5f70" stroke-width="0.6"/><path d="M314.66,431.59 L317.61,426.28 L311.71,426.28 Z" fill="#1f5f70" stroke="#1f5f70" stroke-width="0.6"/><path d="M325.85,413.59 L328.80,408.28 L322.90,408.28 Z" fill="#1f5f70" stroke="#1f5f70" stroke-width="0.6"/><path d="M337.04,399.89 L339.99,394.58 L334.09,394.58 Z" fill="#1f5f70" stroke="#1f5f70" stroke-width="0.6"/><path d="M348.24,349.59 L351.19,344.28 L345.29,344.28 Z" fill="#1f5f70" stroke="#1f5f70" stroke-width="0.6"/><path d="M359.43,413.29 L362.38,407.98 L356.48,407.98 Z" fill="#1f5f70" stroke="#1f5f70" stroke-width="0.6"/><path d="M57.30,361.82 L60.25,367.43 L54.34,367.43 Z" fill="none" stroke="#a30f30" stroke-width="1.2"/><path d="M68.48,375.62 L71.44,381.23 L65.53,381.23 Z" fill="none" stroke="#a30f30" stroke-width="1.2"/><path d="M79.68,390.32 L82.63,395.93 L76.73,395.93 Z" fill="none" stroke="#a30f30" stroke-width="1.2"/><path d="M90.87,382.12 L93.82,387.73 L87.92,387.73 Z" fill="none" stroke="#a30f30" stroke-width="1.2"/><path d="M102.06,392.32 L105.01,397.93 L99.11,397.93 Z" fill="none" stroke="#a30f30" stroke-width="1.2"/><path d="M113.25,401.92 L116.20,407.53 L110.30,407.53 Z" fill="none" stroke="#a30f30" stroke-width="1.2"/><path d="M124.44,407.12 L127.39,412.73 L121.48,412.73 Z" fill="none" stroke="#a30f30" stroke-width="1.2"/><path d="M135.62,398.22 L138.57,403.83 L132.68,403.83 Z" fill="none" stroke="#a30f30" stroke-width="1.2"/><path d="M146.81,381.92 L149.76,387.53 L143.87,387.53 Z" fill="none" stroke="#a30f30" stroke-width="1.2"/><path d="M158.00,408.42 L160.95,414.03 L155.06,414.03 Z" fill="none" stroke="#a30f30" stroke-width="1.2"/><path d="M169.19,417.62 L172.14,423.23 L166.25,423.23 Z" fill="none" stroke="#a30f30" stroke-width="1.2"/><path d="M180.38,414.92 L183.33,420.53 L177.44,420.53 Z" fill="none" stroke="#a30f30" stroke-width="1.2"/><path d="M191.57,413.02 L194.52,418.63 L188.62,418.63 Z" fill="none" stroke="#a30f30" stroke-width="1.2"/><path d="M202.76,421.12 L205.71,426.73 L199.81,426.73 Z" fill="none" stroke="#a30f30" stroke-width="1.2"/><path d="M213.95,411.32 L216.90,416.93 L211.00,416.93 Z" fill="none" stroke="#a30f30" stroke-width="1.2"/><path d="M225.14,409.22 L228.09,414.83 L222.19,414.83 Z" fill="none" stroke="#a30f30" stroke-width="1.2"/><path d="M236.33,418.42 L239.28,424.03 L233.38,424.03 Z" fill="none" stroke="#a30f30" stroke-width="1.2"/><path d="M247.52,429.62 L250.47,435.23 L244.57,435.23 Z" fill="none" stroke="#a30f30" stroke-width="1.2"/><path d="M258.71,437.52 L261.66,443.13 L255.76,443.13 Z" fill="none" stroke="#a30f30" stroke-width="1.2"/><path d="M269.91,426.72 L272.86,432.33 L266.96,432.33 Z" fill="none" stroke="#a30f30" stroke-width="1.2"/><path d="M281.10,458.42 L284.05,464.03 L278.15,464.03 Z" fill="none" stroke="#a30f30" stroke-width="1.2"/><path d="M292.29,465.42 L295.24,471.03 L289.34,471.03 Z" fill="none" stroke="#a30f30" stroke-width="1.2"/><path d="M303.48,443.52 L306.43,449.13 L300.53,449.13 Z" fill="none" stroke="#a30f30" stroke-width="1.2"/><path d="M314.66,467.92 L317.61,473.53 L311.71,473.53 Z" fill="none" stroke="#a30f30" stroke-width="1.2"/><path d="M325.85,447.12 L328.80,452.73 L322.90,452.73 Z" fill="none" stroke="#a30f30" stroke-width="1.2"/><path d="M337.04,418.72 L339.99,424.33 L334.09,424.33 Z" fill="none" stroke="#a30f30" stroke-width="1.2"/><path d="M348.24,397.32 L351.19,402.93 L345.29,402.93 Z" fill="none" stroke="#a30f30" stroke-width="1.2"/><path d="M359.43,429.72 L362.38,435.33 L356.48,435.33 Z" fill="none" stroke="#a30f30" stroke-width="1.2"/><path d="M281.10,421.80 V428.60 M279.50,421.80 H282.70 M279.50,428.60 H282.70" stroke="#1f5f70" stroke-width="1.1" fill="none"/><path d="M292.29,429.40 V436.20 M290.69,429.40 H293.89 M290.69,436.20 H293.89" stroke="#1f5f70" stroke-width="1.1" fill="none"/><path d="M303.48,402.30 V409.30 M301.88,402.30 H305.08 M301.88,409.30 H305.08" stroke="#1f5f70" stroke-width="1.1" fill="none"/><path d="M314.66,425.50 V433.70 M313.06,425.50 H316.26 M313.06,433.70 H316.26" stroke="#1f5f70" stroke-width="1.1" fill="none"/><path d="M325.85,406.30 V416.10 M324.25,406.30 H327.45 M324.25,416.10 H327.45" stroke="#1f5f70" stroke-width="1.1" fill="none"/><path d="M337.04,392.70 V402.40 M335.44,392.70 H338.64 M335.44,402.40 H338.64" stroke="#1f5f70" stroke-width="1.1" fill="none"/><path d="M348.24,339.30 V354.30 M346.63,339.30 H349.84 M346.63,354.30 H349.84" stroke="#1f5f70" stroke-width="1.1" fill="none"/><path d="M359.43,402.40 V419.00 M357.82,402.40 H361.03 M357.82,419.00 H361.03" stroke="#1f5f70" stroke-width="1.1" fill="none"/><path d="M269.91,426.80 V433.60 M268.31,426.80 H271.51 M268.31,433.60 H271.51" stroke="#a30f30" stroke-width="1.1" fill="none"/><path d="M281.10,458.60 V465.20 M279.50,458.60 H282.70 M279.50,465.20 H282.70" stroke="#a30f30" stroke-width="1.1" fill="none"/><path d="M292.29,465.10 V472.70 M290.69,465.10 H293.89 M290.69,472.70 H293.89" stroke="#a30f30" stroke-width="1.1" fill="none"/><path d="M303.48,442.30 V451.40 M301.88,442.30 H305.08 M301.88,451.40 H305.08" stroke="#a30f30" stroke-width="1.1" fill="none"/><path d="M314.66,466.30 V476.30 M313.06,466.30 H316.26 M313.06,476.30 H316.26" stroke="#a30f30" stroke-width="1.1" fill="none"/><path d="M325.85,444.40 V455.10 M324.25,444.40 H327.45 M324.25,455.10 H327.45" stroke="#a30f30" stroke-width="1.1" fill="none"/><path d="M337.04,416.10 V428.80 M335.44,416.10 H338.64 M335.44,428.80 H338.64" stroke="#a30f30" stroke-width="1.1" fill="none"/><path d="M348.24,392.10 V407.30 M346.63,392.10 H349.84 M346.63,407.30 H349.84" stroke="#a30f30" stroke-width="1.1" fill="none"/><path d="M359.43,424.50 V443.40 M357.82,424.50 H361.03 M357.82,443.40 H361.03" stroke="#a30f30" stroke-width="1.1" fill="none"/></g>
<text x="51.0" y="13.8" font-size="12.3" text-anchor="start" fill="#000" >7000 GeV pp</text>
<text x="365.2" y="13.7" font-size="12.2" text-anchor="end" fill="#000" >Jets</text>
<g font-size="12"><text x="79.2" y="41.9" word-spacing="0.65">Pruned AK7 dijets, (p</text><text x="192.4" y="37.8" font-size="7.6">1</text><text x="192.0" y="48.8" font-size="7.6">T</text><text x="199.6" y="41.9" word-spacing="0.6">+ p</text><text x="216.3" y="37.8" font-size="7.6">2</text><text x="216.4" y="48.8" font-size="7.6">T</text><text x="221.6" y="41.9">) / 2 = 800--1000 GeV</text></g>
<text x="39.3" y="68.9" font-size="11.3" text-anchor="end">10<tspan font-size="7.2" dy="-5.2">2</tspan></text>
<text x="40.3" y="128.7" font-size="11.3" text-anchor="end" fill="#000" >10</text>
<text x="40.3" y="190.8" font-size="11.3" text-anchor="end" fill="#000" >1</text>
<text x="41.0" y="254.8" font-size="11.3" text-anchor="end">10<tspan font-size="7.2" dy="-5.2">−1</tspan></text>
<text x="39.8" y="316.6" font-size="11.3" text-anchor="end">10<tspan font-size="7.2" dy="-5.2">−2</tspan></text>
<text x="38.6" y="341" font-size="11.3" text-anchor="end" fill="#000" >2</text>
<text x="39.5" y="401.8" font-size="11.3" text-anchor="end" fill="#000" >1</text>
<text x="38.3" y="462" font-size="11.3" text-anchor="end" fill="#000" >0.5</text>
<text x="374" y="341" font-size="11.3" text-anchor="start" fill="#000" >2</text>
<text x="374" y="401.8" font-size="11.3" text-anchor="start" fill="#000" >1</text>
<text x="374" y="462" font-size="11.5" text-anchor="start" fill="#000" >0.5</text>
<text x="51.2" y="488.8" font-size="11.3" text-anchor="middle" fill="#000" >0</text>
<text x="163.60000000000002" y="488.8" font-size="11.3" text-anchor="middle" fill="#000" >100</text>
<text x="275.5" y="488.8" font-size="11.3" text-anchor="middle" fill="#000" >200</text>
<text x="375.6" y="504.1" font-size="12.7" text-anchor="end" fill="#000" >(m_1 + m_2) / 2 [GeV]</text>
<g transform="translate(16.6,0) rotate(-90)" font-size="12.2"><text x="-209.7" y="0">1000/σ</text><text x="-161.5" y="0">2d</text><text x="-150.1" y="0">σ</text><text x="-142.4" y="0">)/d(</text><text x="-125.3" y="0">m_1 + m_2) [1/GeV]</text></g>
<text transform="translate(18.3,423.6) rotate(-90)" font-size="9.2">Ratio to CMS</text>
<text transform="translate(379.8,127.2) rotate(-90)" font-size="9.4" fill="#555">Rivet 4.1.0, ≥ 300k events</text>
<text transform="translate(379.8,313.8) rotate(-90)" font-size="9.43" fill="#555">mcplots.cern.ch [arXiv:2401.10621]</text>
<rect x="73.7" y="231.3" width="5.2" height="5.2" fill="#000"/>
<line x1="64.1" y1="246.8" x2="88.9" y2="246.8" stroke="#f4a0a0" stroke-width="1.1"/>
<path d="M76.30,244.3 L78.80,246.8 L76.30,249.3 L73.80,246.8 Z" fill="#fcdada" stroke="#f08888" stroke-width="0.9"/>
<line x1="64.1" y1="260.0" x2="88.9" y2="260.0" stroke="#1f5f70" stroke-width="1.0"/>
<path d="M76.30,262.69 L79.25,257.38 L73.35,257.38 Z" fill="#1f5f70" stroke="#1f5f70" stroke-width="0.6"/>
<line x1="64.1" y1="273.0" x2="88.9" y2="273.0" stroke="#a30f30" stroke-width="1.0"/>
<path d="M76.30,269.23 L79.50,275.31 L73.10,275.31 Z" fill="none" stroke="#a30f30" stroke-width="1.2"/>
<text x="94.3" y="236.9" font-size="9.3" text-anchor="start" fill="#000" >CMS</text>
<text x="94.3" y="249.8" font-size="9.3" text-anchor="start" fill="#000" >Epos 1.99.crmc.1.6.0 lhc</text>
<text x="94.3" y="262.7" font-size="9.3" text-anchor="start" fill="#000" >Herwig 7.2.1 softTune</text>
<text x="94.3" y="275.6" font-size="9.3" text-anchor="start" fill="#000" >Pythia 6.428 370</text>
<text x="207.4" y="301.7" font-size="7.9" text-anchor="middle" fill="#a8a8a8" >(CMS_2013_I1224539)</text>
</svg></body></html>
